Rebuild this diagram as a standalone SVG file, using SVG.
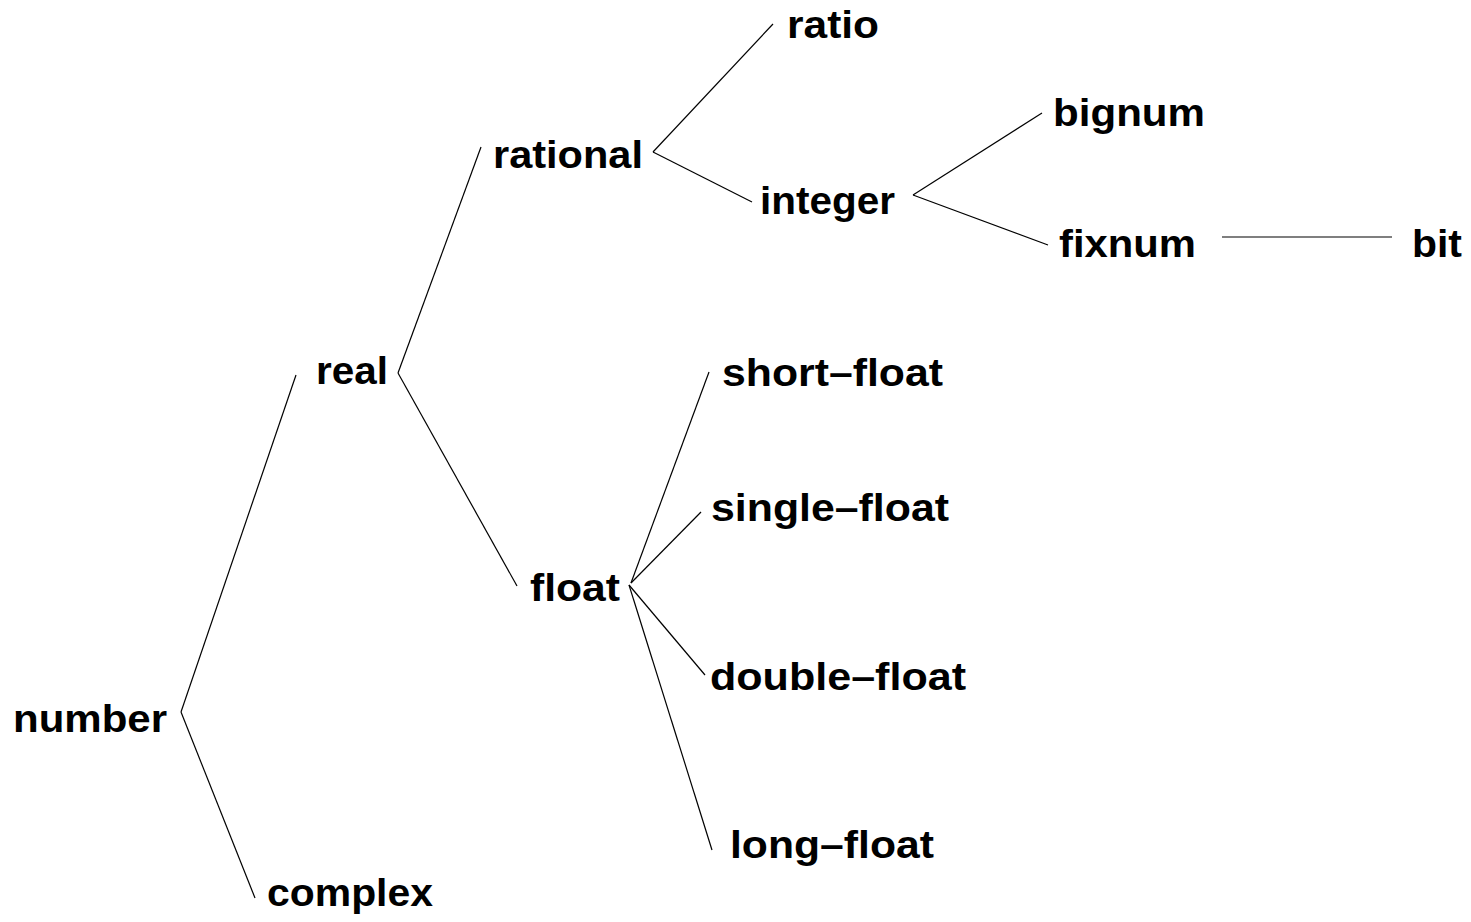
<svg xmlns="http://www.w3.org/2000/svg" width="1471" height="922" viewBox="0 0 1471 922">
<style>
text{font-family:"Liberation Sans",Arial,sans-serif;font-weight:bold;font-size:39px;fill:#000}
.c line{stroke:#000;stroke-width:1.2;fill:none}
</style>
<rect width="1471" height="922" fill="#fff"/>
<g id="connectors" class="c">
<line x1="181" y1="712" x2="296" y2="375"/>
<line x1="181" y1="712" x2="255" y2="898"/>
<line x1="398" y1="373" x2="481" y2="147"/>
<line x1="398" y1="373" x2="517" y2="586"/>
<line x1="653" y1="152" x2="773" y2="24"/>
<line x1="653" y1="152" x2="752" y2="202"/>
<line x1="913" y1="195" x2="1042" y2="113"/>
<line x1="913" y1="195" x2="1048" y2="245"/>
<line x1="1222" y1="237" x2="1392" y2="237"/>
<line x1="631" y1="583" x2="709" y2="372"/>
<line x1="631" y1="583" x2="701" y2="512"/>
<line x1="629" y1="585" x2="705" y2="675"/>
<line x1="629" y1="585" x2="712" y2="850"/>
</g>
<g id="number"><text x="13" y="732" textLength="154" lengthAdjust="spacingAndGlyphs">number</text></g>
<g id="complex"><text x="267" y="906" textLength="166" lengthAdjust="spacingAndGlyphs">complex</text></g>
<g id="real"><text x="316" y="384" textLength="72" lengthAdjust="spacingAndGlyphs">real</text></g>
<g id="rational"><text x="493" y="168" textLength="150" lengthAdjust="spacingAndGlyphs">rational</text></g>
<g id="ratio"><text x="787" y="38" textLength="92" lengthAdjust="spacingAndGlyphs">ratio</text></g>
<g id="integer"><text x="760" y="214" textLength="135" lengthAdjust="spacingAndGlyphs">integer</text></g>
<g id="bignum"><text x="1053" y="126" textLength="152" lengthAdjust="spacingAndGlyphs">bignum</text></g>
<g id="fixnum"><text x="1059" y="257" textLength="137" lengthAdjust="spacingAndGlyphs">fixnum</text></g>
<g id="bit"><text x="1412" y="257" textLength="50" lengthAdjust="spacingAndGlyphs">bit</text></g>
<g id="float"><text x="530" y="601" textLength="90" lengthAdjust="spacingAndGlyphs">float</text></g>
<g id="short-float"><text x="722" y="386" textLength="221" lengthAdjust="spacingAndGlyphs">short–float</text></g>
<g id="single-float"><text x="711" y="521" textLength="238" lengthAdjust="spacingAndGlyphs">single–float</text></g>
<g id="double-float"><text x="710" y="690" textLength="256" lengthAdjust="spacingAndGlyphs">double–float</text></g>
<g id="long-float"><text x="730" y="858" textLength="204" lengthAdjust="spacingAndGlyphs">long–float</text></g>
</svg>
